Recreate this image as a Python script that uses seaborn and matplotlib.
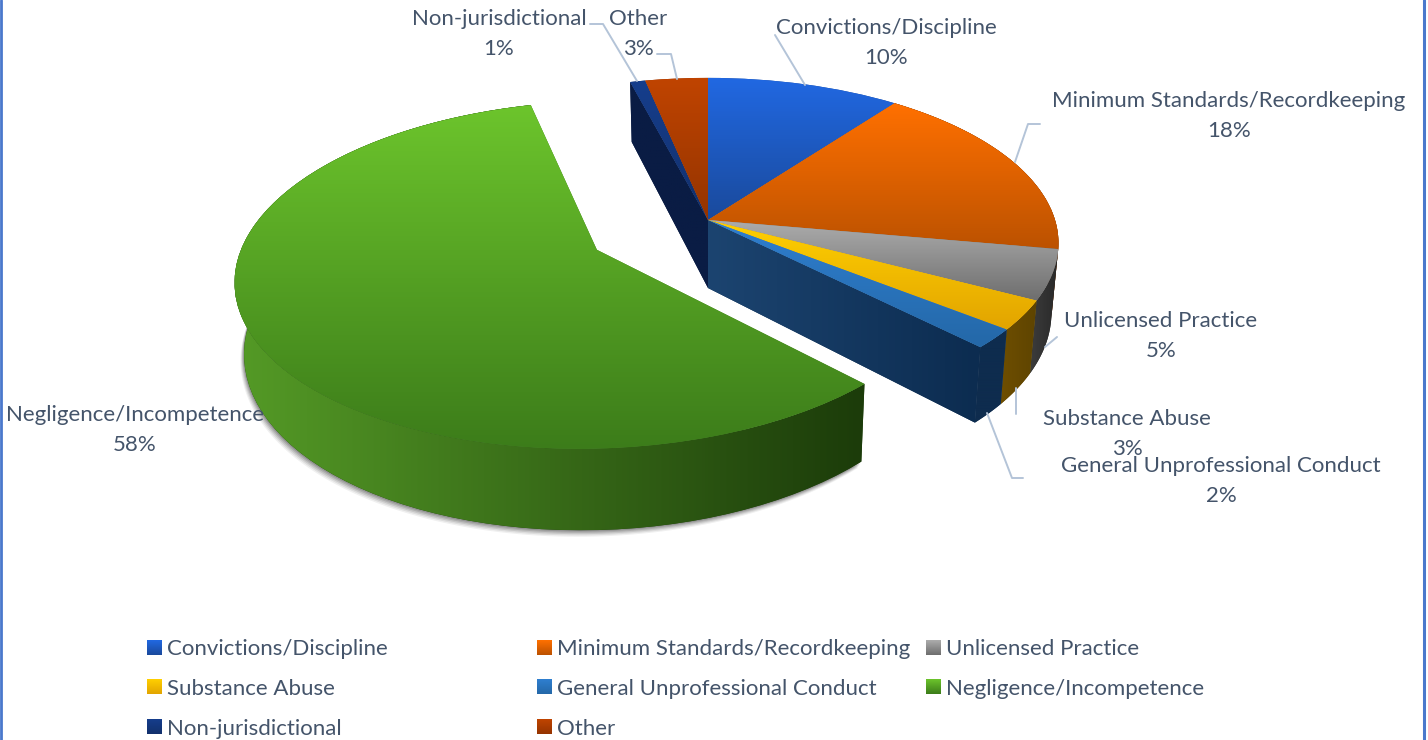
import numpy as np
import matplotlib
matplotlib.use("Agg")
import matplotlib.pyplot as plt
import matplotlib.transforms as mtransforms
from matplotlib.patches import Patch
import seaborn as sns

categories = ["Convictions/Discipline", "Minimum Standards/Recordkeeping", "Unlicensed Practice",
              "Substance Abuse", "General Unprofessional Conduct", "Negligence/Incompetence",
              "Non-jurisdictional", "Other"]
# the labels show them rounded
percents = [10.2, 17.6, 4.9, 2.9, 1.9, 58.4, 0.8, 3.3]
explode = [0, 0, 0, 0, 0, 0.36, 0, 0]

top_colors = [("#2168E2", "#1A4A9C"), ("#FF7000", "#BC5200"), ("#ACACAC", "#6E6E6E"),
              ("#FFD000", "#E2A400"), ("#2F7FD0", "#2468A8"), ("#6CC42C", "#3C7C1A"),
              ("#163E8C", "#12306C"), ("#C04400", "#943400")]
wall_colors = [("#143A80", "#143A80"), ("#8A3C00", "#8A3C00"), ("#3C3C3C", "#282828"),
               ("#6E4E00", "#5E4400"), ("#0E2C4E", "#0E2C4E"),
               ("#549A26", "#1C3C0A"), ("#0A1C44", "#0A1C44"), ("#6A2400", "#6A2400")]

# pixel position of the name, the percent goes one line below it
label_pos = [(886, 28), (1229, 101), (1161, 321), (1127, 419), (1221, 466), (135, 415), (499, 19), (638, 19)]
leaders = [[(805, 85), (775, 35)],
           [(1015, 162), (1028, 124), (1040, 124)],
           [(1045, 347), (1057, 337)],
           [(1016, 388), (1016, 414)],
           [(987, 413), (1012, 478), (1023, 478)],
           [],
           [(637, 81), (603, 24), (590, 24)],
           [(677, 79), (671, 54), (657, 54)]]

legend_cols = [[0, 3, 6], [1, 4, 7], [2, 5]]
legend_x = [147, 537, 926]

CX, CY = 708, 220
RX, RY, PERSP = 347, 162, 0.14
DEPTH, SHRINK = 68, 0.98
TEXT = "#44546A"
LEADER = "#B4C4D8"
BORDER = "#4A78CC"
FONT = 16


class TiltedDisc(mtransforms.Transform):
    """flat pie coordinates to the tilted top face, in pixels"""
    input_dims = 2
    output_dims = 2

    def transform_non_affine(self, values):
        values = np.asarray(values, dtype=float)
        w = 1 + PERSP * values[:, 1]
        return np.column_stack([CX + RX * values[:, 0] / w, CY - RY * values[:, 1] / w])


def project(x, y, bottom=False):
    w = 1 + PERSP * y
    if bottom:
        return CX + SHRINK * RX * x / w, CY - RY * y / w + DEPTH / w
    return CX + RX * x / w, CY - RY * y / w


def gradient(ax, patch, colors, vertical, z, box):
    ramp = np.array(sns.blend_palette(list(colors), n_colors=64))
    img = ramp[:, None, :] if vertical else ramp[None, :, :]
    x0, x1, y0, y1 = box
    im = ax.imshow(img, extent=(x0, x1, y1, y0), aspect="auto", interpolation="bilinear", zorder=z)
    if patch is not None:
        im.set_clip_path(patch)


def outer_wall(ax, wedge, colors, z):
    a = np.radians(np.linspace(wedge.theta1, wedge.theta2, 80))
    ux = wedge.center[0] + np.cos(a)
    uy = wedge.center[1] + np.sin(a)
    xt, yt = project(ux, uy)
    xb, yb = project(ux, uy, bottom=True)
    xs = np.r_[xt, xb[::-1]]
    ys = np.r_[yt, yb[::-1]]
    poly = ax.fill(xs, ys, color=colors[1], lw=0, zorder=z)[0]
    gradient(ax, poly, colors, False, z + 0.1, (xs.min(), xs.max(), ys.min(), ys.max()))


def radial_wall(ax, theta, colors, z):
    ux, uy = np.cos(np.radians(theta)), np.sin(np.radians(theta))
    xt, yt = project(np.array([0, ux]), np.array([0, uy]))
    xb, yb = project(np.array([0, ux]), np.array([0, uy]), bottom=True)
    xs = np.r_[xt, xb[::-1]]
    ys = np.r_[yt, yb[::-1]]
    poly = ax.fill(xs, ys, color=colors[1], lw=0, zorder=z)[0]
    gradient(ax, poly, colors, False, z + 0.1, (xs.min(), xs.max(), ys.min(), ys.max()))


def shadow(ax, wedge, z):
    # only the front of the rim, so the closing chord stays under the slice
    a = np.radians(np.linspace(-190, wedge.theta2, 120))
    xb, yb = project(wedge.center[0] + np.cos(a), wedge.center[1] + np.sin(a), bottom=True)
    for grow, alpha in zip((5, 4, 3, 2, 1), (0.06, 0.08, 0.1, 0.12, 0.14)):
        ax.fill(xb - grow * 0.7, yb + grow * 1.3, color="black", alpha=alpha, lw=0, zorder=z)


def main():
    sns.set_theme(style="white")
    plt.rcParams["font.family"] = ["Lato", "DejaVu Sans"]

    fig = plt.figure(figsize=(14.28, 7.4), dpi=100, facecolor="white")
    ax = fig.add_axes([0, 0, 1, 1])

    wedges, _ = ax.pie(percents, startangle=90, counterclock=False, explode=explode, labeldistance=None)
    ax.set_aspect("auto")

    disc = TiltedDisc() + ax.transData
    green = wedges[5]

    # back part: everything but the pulled out slice
    shadow(ax, green, 1)
    radial_wall(ax, green.theta1, wall_colors[6], 2)
    radial_wall(ax, wedges[4].theta1, ("#1C4470", "#0C2C50"), 3)
    for i in [1, 2, 3, 4]:
        outer_wall(ax, wedges[i], wall_colors[i], 4 + i * 0.2)

    z = 6
    for i in [0, 1, 2, 3, 4, 6, 7, 5]:
        w = wedges[i]
        if i == 5:
            outer_wall(ax, w, wall_colors[i], 8)
            z = 10
        w.set_transform(disc)
        w.set_facecolor(top_colors[i][1])
        w.set_linewidth(0)
        w.set_zorder(z)
        verts = TiltedDisc().transform(w.get_path().vertices)
        gradient(ax, w, top_colors[i], True, z + 0.1,
                 (verts[:, 0].min(), verts[:, 0].max(), verts[:, 1].min(), verts[:, 1].max()))
        z += 0.2

    for line in leaders:
        if line:
            xs, ys = zip(*line)
            ax.plot(xs, ys, color=LEADER, lw=1.4, zorder=12)

    for name, pct, (x, y) in zip(categories, percents, label_pos):
        ax.text(x, y, name, color=TEXT, fontsize=FONT, ha="center", va="center", zorder=13)
        ax.text(x, y + 30, f"{pct:.0f}%", color=TEXT, fontsize=FONT, ha="center", va="center", zorder=13)

    ax.axvline(0.8, color=BORDER, lw=2, zorder=14)
    ax.axvline(1423.5, color=BORDER, lw=2.2, zorder=14)

    ax.set_xlim(0, 1428)
    ax.set_ylim(740, 0)
    ax.set_axis_off()

    legends = []
    for col, left in zip(legend_cols, legend_x):
        handles = [Patch(facecolor=top_colors[i][0], edgecolor="none", label=categories[i]) for i in col]
        leg = ax.legend(handles=handles, loc="upper left", bbox_to_anchor=(left / 1428, 1 - 639 / 740),
                        bbox_transform=fig.transFigure, frameon=False, fontsize=FONT, labelcolor=TEXT,
                        borderpad=0, borderaxespad=0, handlelength=0.65, handleheight=0.65,
                        handletextpad=0.25, labelspacing=0.89)
        leg.set_zorder(15)
        ax.add_artist(leg)
        ax.legend_ = None
        legends.append((leg, col))

    # legend swatches carry the same gradient as their slice
    fig.canvas.draw()
    to_data = ax.transData.inverted()
    for leg, col in legends:
        for handle, i in zip(leg.legend_handles, col):
            (x0, y0), (x1, y1) = to_data.transform(handle.get_window_extent().get_points())
            gradient(ax, None, top_colors[i], True, 16, (x0, x1, min(y0, y1), max(y0, y1)))
    ax.set_xlim(0, 1428)
    ax.set_ylim(740, 0)

    fig.savefig("out.png", dpi=100)
    plt.close(fig)


if __name__ == "__main__":
    main()
